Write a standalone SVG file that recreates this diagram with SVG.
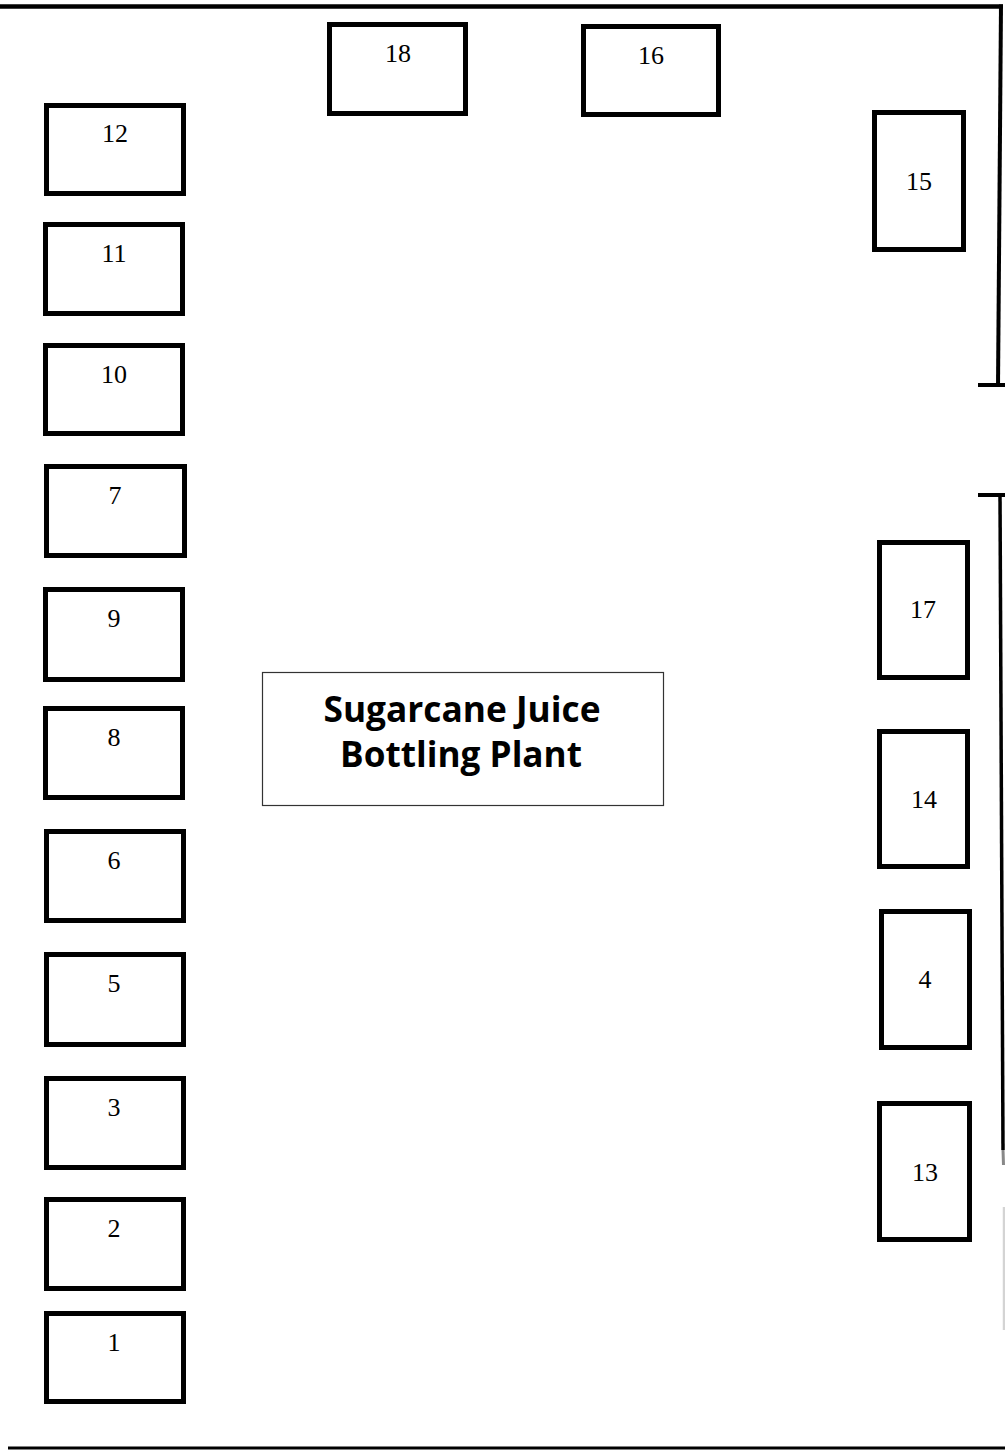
<svg xmlns="http://www.w3.org/2000/svg" width="1005" height="1450" viewBox="0 0 1005 1450">
<style>
.bx{fill:#fff;stroke:#000;stroke-width:5}
.n{font-family:"Liberation Serif","Times New Roman",serif;font-size:26px;fill:#000;text-anchor:middle}
.t{font-family:"Open Sans","Liberation Sans",sans-serif;font-weight:700;font-size:35px;fill:#000;text-anchor:middle}
.w{stroke:#000;fill:none}
</style>
<rect width="1005" height="1450" fill="#fff"/>
<g id="walls">
<path class="w" d="M0 6.5 H1003" stroke-width="4.5"/>
<path class="w" d="M1001 4.5 L998 387" stroke-width="4"/>
<path class="w" d="M978 385 H1005" stroke-width="4"/>
<path class="w" d="M978 495 H1005" stroke-width="4"/>
<path class="w" d="M1000 493 L1003 1150" stroke-width="3.5"/>
<path d="M1003 1150 L1003.5 1165" stroke="#888" stroke-width="3" fill="none"/>
<path d="M1004 1207 L1004 1330" stroke="#d4d4d4" stroke-width="2.5" fill="none"/>
<path class="w" d="M8 1448 H1005" stroke-width="3"/>
</g>
<g id="n12"><rect class="bx" x="46.5" y="105.5" width="137" height="88"/><text class="n" x="115" y="142">12</text></g>
<g id="n11"><rect class="bx" x="45.5" y="224.5" width="137" height="89"/><text class="n" x="114" y="262">11</text></g>
<g id="n10"><rect class="bx" x="45.5" y="345.5" width="137" height="88"/><text class="n" x="114" y="383">10</text></g>
<g id="n7"><rect class="bx" x="46.5" y="466.5" width="138" height="89"/><text class="n" x="115" y="504">7</text></g>
<g id="n9"><rect class="bx" x="45.5" y="589.5" width="137" height="90"/><text class="n" x="114" y="627">9</text></g>
<g id="n8"><rect class="bx" x="45.5" y="708.5" width="137" height="89"/><text class="n" x="114" y="746">8</text></g>
<g id="n6"><rect class="bx" x="46.5" y="831.5" width="137" height="89"/><text class="n" x="114" y="869">6</text></g>
<g id="n5"><rect class="bx" x="46.5" y="954.5" width="137" height="90"/><text class="n" x="114" y="992">5</text></g>
<g id="n3"><rect class="bx" x="46.5" y="1078.5" width="137" height="89"/><text class="n" x="114" y="1116">3</text></g>
<g id="n2"><rect class="bx" x="46.5" y="1199.5" width="137" height="89"/><text class="n" x="114" y="1237">2</text></g>
<g id="n1"><rect class="bx" x="46.5" y="1313.5" width="137" height="88"/><text class="n" x="114" y="1351">1</text></g>
<g id="n18"><rect class="bx" x="329.5" y="24.5" width="136" height="89"/><text class="n" x="398" y="62">18</text></g>
<g id="n16"><rect class="bx" x="583.5" y="26.5" width="135" height="88"/><text class="n" x="651" y="64">16</text></g>
<g id="n15"><rect class="bx" x="874.5" y="112.5" width="89" height="137"/><text class="n" x="919" y="190">15</text></g>
<g id="n17"><rect class="bx" x="879.5" y="542.5" width="88" height="135"/><text class="n" x="923" y="618">17</text></g>
<g id="n14"><rect class="bx" x="879.5" y="731.5" width="88" height="135"/><text class="n" x="924" y="808">14</text></g>
<g id="n4"><rect class="bx" x="881.5" y="911.5" width="88" height="136"/><text class="n" x="925" y="988">4</text></g>
<g id="n13"><rect class="bx" x="879.5" y="1103.5" width="90" height="136"/><text class="n" x="925" y="1181">13</text></g>
<g id="title">
<rect x="262.5" y="672.5" width="401" height="133" fill="#fff" stroke="#333" stroke-width="1.2"/>
<text class="t" x="462" y="722" textLength="277" lengthAdjust="spacingAndGlyphs">Sugarcane Juice</text>
<text class="t" x="461" y="767" textLength="242" lengthAdjust="spacingAndGlyphs">Bottling Plant</text>
</g>
<g id="connectors"></g>
</svg>
